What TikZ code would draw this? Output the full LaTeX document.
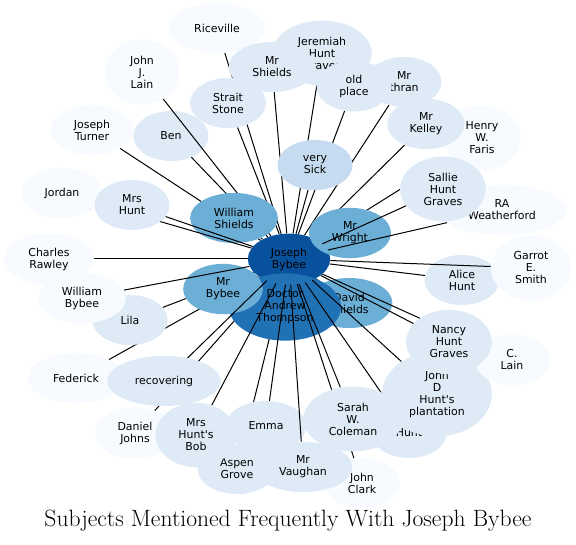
\documentclass[tikz,border=0pt]{standalone}
\usepackage{fontspec}
\newfontfamily\bubfont{DejaVu Sans}
\usetikzlibrary{shapes.geometric}
\definecolor{blueA}{HTML}{F7FBFF}
\definecolor{blueB}{HTML}{DEEBF7}
\definecolor{blueC}{HTML}{C6DBEF}
\definecolor{blueE}{HTML}{6BAED6}
\definecolor{blueG}{HTML}{2171B5}
\definecolor{blueH}{HTML}{08519C}
\pgfdeclarelayer{bg}
\pgfdeclarelayer{wiresA}
\pgfdeclarelayer{bubsA}
\pgfdeclarelayer{wiresB}
\pgfdeclarelayer{bubsB}
\pgfdeclarelayer{wiresC}
\pgfdeclarelayer{bubsC}
\pgfdeclarelayer{wiresD}
\pgfsetlayers{bg,wiresA,bubsA,wiresB,bubsB,wiresC,bubsC,wiresD,main}
\tikzset{
  bub/.style={ellipse,inner xsep=8.25pt,inner ysep=5pt,minimum width=56.25pt,
              minimum height=37.5pt,align=center,
              font=\bubfont\fontsize{8.2}{9}\selectfont},
  rare/.style={bub,fill=blueA},
  some/.style={bub,fill=blueB},
  often/.style={bub,fill=blueC},
  many/.style={bub,fill=blueE},
  most/.style={bub,fill=blueG},
  hub/.style={bub,fill=blueH},
  link/.style={line width=0.75pt},
}

\begin{document}
\begin{tikzpicture}[x=0.75pt,y=-0.75pt]
  \useasboundingbox (0,0) rectangle (576,545);
  \begin{pgfonlayer}{bg}
    \fill[white] (0,0) rectangle (576,545);
    \node[some] (ben) at (171,136) {Ben};
  \end{pgfonlayer}
  % upper ring
  \begin{pgfonlayer}{bubsA}
    \node[hub] (jb) at (289,259) {Joseph\\Bybee};
    \node[rare] (rice) at (217,28) {Riceville};
    \node[rare] (jjl) at (142,72) {John\\J.\\Lain};
    \node[rare] (jt) at (92,130) {Joseph\\Turner};
    \node[some] (jhg) at (322,53) {Jeremiah\\Hunt\\Graves};
    \node[some] (msh) at (272,67) {Mr\\Shields};
    \node[some] (mt) at (404,82) {Mr\\thran};
    \node[some] (op) at (354,86) {old\\place};
    \node[some] (ss) at (228,103) {Strait\\Stone};
    \node[rare] (hwf) at (482,138) {Henry\\W.\\Faris};
    \node[some] (mk) at (426,124) {Mr\\Kelley};
    \node[rare] (raw) at (502,210) {RA\\Weatherford};
    \node[some] (shg) at (443,189) {Sallie\\Hunt\\Graves};
    \node[often] (vs) at (315,165) {very\\Sick};
    \node[many] (ws) at (234,218) {William\\Shields};
    \node[many] (mw) at (350,233) {Mr\\Wright};
  \end{pgfonlayer}
  \begin{pgfonlayer}{bubsB}
    \node[rare] (jor) at (62,193) {Jordan};
    \node[some] (mh) at (132,205) {Mrs\\Hunt};
    \node[some] (lila) at (130,320) {Lila};
    \node[rare] (cr) at (49,259) {Charles\\Rawley};
    \node[many] (ds) at (349,303) {David\\Shields};
    \node[most] (dat) at (285,307) {Doctor\\Andrew\\Thompson};
    \node[many] (mb) at (223,289) {Mr\\Bybee};
  \end{pgfonlayer}
  % lower ring
  \begin{pgfonlayer}{bubsC}
    \node[rare] (wb) at (82,298) {William\\Bybee};
    \node[rare] (fed) at (76,378) {Federick};
    \node[rare] (dj) at (135,433) {Daniel\\Johns};
    \node[some] (rec) at (164,381) {recovering};
    \node[some] (ag) at (237,469) {Aspen\\Grove};
    \node[some] (mhb) at (196,435) {Mrs\\Hunt\textquotesingle{}s\\Bob};
    \node[some] (emma) at (266,426) {Emma};
    \node[rare] (jc) at (362,483) {John\\Clark};
    \node[some] (ah) at (462,280) {Alice\\Hunt};
  \end{pgfonlayer}
  \node[some] (mv) at (303,467) {Mr\\Vaughan};
  \node[some] (hunt) at (409,433) {Hunt};
  \node[some] (swc) at (353,419) {Sarah\\W.\\Coleman};
  \node[some] (jdh) at (437,394) {John\\D\\Hunt\textquotesingle{}s\\plantation};
  \node[rare] (cl) at (512,360) {C.\\Lain};
  \node[some] (nhg) at (449,342) {Nancy\\Hunt\\Graves};
  \node[rare] (ges) at (531,268) {Garrot\\E.\\Smith};

  % spokes
  \begin{pgfonlayer}{wiresA}
    \draw[link] (jb)--(rice); \draw[link] (jb)--(msh); \draw[link] (jb)--(jhg);
    \draw[link] (jb)--(op); \draw[link] (jb)--(mt); \draw[link] (jb)--(mk);
    \draw[link] (jb)--(hwf); \draw[link] (jb)--(ss); \draw[link] (jb)--(ben);
    \draw[link] (jb)--(jt); \draw[link] (jb)--(jjl); \draw[link] (jb)--(vs);
    \draw[link] (jb)--(ws); \draw[link] (jb)--(mw); \draw[link] (jb)--(mb);
    \draw[link] (jb)--(dat); \draw[link] (jb)--(ds); \draw[link] (jb)--(lila);
    \draw[link] (jb)--(fed); \draw[link] (jb)--(dj); \draw[link] (jb)--(ag);
    \draw[link] (jb)--(cr); \draw[link] (jb)--(ah);
  \end{pgfonlayer}
  \begin{pgfonlayer}{wiresB}
    \draw[link] (jb)--(jor); \draw[link] (jb)--(mh);
    \draw[link] (jb)--(shg); \draw[link] (jb)--(raw);
  \end{pgfonlayer}
  \begin{pgfonlayer}{wiresC}
    \draw[link] (jb)--(wb); \draw[link] (jb)--(rec); \draw[link] (jb)--(mhb);
    \draw[link] (jb)--(emma); \draw[link] (jb)--(swc); \draw[link] (jb)--(jc);
    \draw[link] (jb)--(hunt); \draw[link] (jb)--(jdh); \draw[link] (jb)--(nhg);
    \draw[link] (jb)--(cl);
  \end{pgfonlayer}
  \begin{pgfonlayer}{wiresD}
    \draw[link] (jb)--(mv); \draw[link] (jb)--(ges);
  \end{pgfonlayer}

  \node[anchor=base,font=\fontsize{17.7}{21}\selectfont] (title) at (288,527)
    {Subjects Mentioned Frequently With Joseph Bybee};
\end{tikzpicture}
\end{document}
